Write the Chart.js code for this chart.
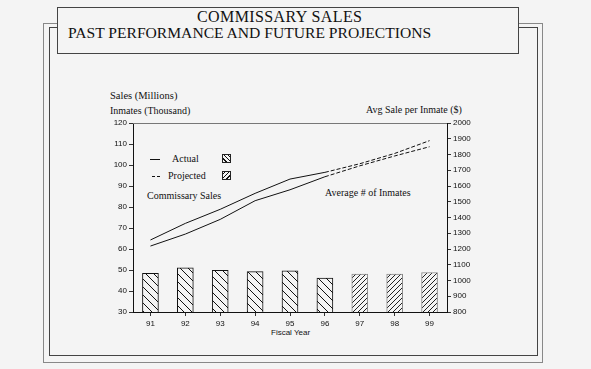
<!DOCTYPE html>
<html>
<head>
<meta charset="utf-8">
<script src="https://cdn.jsdelivr.net/npm/chart.js@4.4.0/dist/chart.umd.min.js"></script>
<style>
  html, body { margin:0; padding:0; background:#f4f4f4; }
  #wrap { position:relative; width:591px; height:369px; overflow:hidden; background:#f4f4f4; }
  .frame { position:absolute; box-sizing:border-box; }
  #outer { left:43px; top:23px; width:500px; height:340px; border:1px solid #888; }
  #inner { left:49px; top:27px; width:489px; height:329px; border:1px solid #444; }
  #titlebox { left:57px; top:7px; width:462px; height:47px; border:1px solid #444; background:#f4f4f4; }
  .t { position:absolute; white-space:nowrap; color:#111; line-height:1; }
  .serif { font-family:"Liberation Serif", "Times New Roman", serif; }
  .sans { font-family:"Liberation Sans", Arial, sans-serif; }
  #title1 { left:197px; top:9px; font-size:16px; letter-spacing:0.4px; }
  #title2 { left:68px; top:25px; font-size:15.6px; }
  .lab { font-size:10px; }
  .sw { position:absolute; width:9px; height:9px; border:1px solid #222; box-sizing:border-box; }
  #chartbox { position:absolute; left:0; top:0; width:591px; height:369px; }
</style>
</head>
<body>
<div id="wrap">
  <div class="frame" id="outer"></div>
  <div class="frame" id="inner"></div>
  <div class="frame" id="titlebox"></div>
  <div class="t serif" id="title1">COMMISSARY SALES</div>
  <div class="t serif" id="title2">PAST PERFORMANCE AND FUTURE PROJECTIONS</div>

  <div class="t serif lab" style="left:110px; top:91px; font-size:10.5px;">Sales (Millions)</div>
  <div class="t serif lab" style="left:110px; top:106px;">Inmates (Thousand)</div>
  <div class="t serif lab" style="left:366px; top:105px;">Avg Sale per Inmate ($)</div>

  <div style="position:absolute; left:150px; top:159px; width:10px; border-top:1px solid #111;"></div>
  <div class="t serif lab" style="left:172px; top:154px;">Actual</div>
  <div class="sw" style="left:222px; top:154px; background:repeating-linear-gradient(45deg, #f4f4f4 0px, #f4f4f4 2px, #111 2px, #111 3px);"></div>
  <div style="position:absolute; left:152px; top:176px; width:3px; border-top:1px solid #111;"></div>
  <div style="position:absolute; left:157px; top:176px; width:3px; border-top:1px solid #111;"></div>
  <div class="t serif lab" style="left:168px; top:171px;">Projected</div>
  <div class="sw" style="left:222px; top:171px; background:repeating-linear-gradient(-45deg, #f4f4f4 0px, #f4f4f4 2px, #111 2px, #111 3px);"></div>

  <div class="t serif lab" style="left:147px; top:191px;">Commissary Sales</div>
  <div class="t serif lab" style="left:325px; top:188px;">Average # of Inmates</div>
  <div class="t sans" style="left:271px; top:329px; font-size:8px;">Fiscal Year</div>

  <div id="chartbox"><canvas id="c" width="591" height="369"></canvas></div>
</div>
<script>
const years = ['91','92','93','94','95','96','97','98','99'];
const commissarySales = [64.3, 72.2, 78.9, 86.5, 93.3, 96.5, 100.6, 105.5, 111.6];
const averageInmates = [61.4, 67.1, 74.1, 83.0, 88.2, 94.4, 99.6, 104.3, 108.7];
const avgSalePerInmate = [1045, 1081, 1064, 1056, 1062, 1015, 1041, 1040, 1051];
const lastActualIndex = 5;

function hatch(size, dir, color) {
  const cv = document.createElement('canvas');
  cv.width = size; cv.height = size;
  const g = cv.getContext('2d');
  g.fillStyle = '#f4f4f4';
  g.fillRect(0, 0, size, size);
  g.strokeStyle = color;
  g.lineWidth = 1;
  g.beginPath();
  if (dir === 'back') {
    g.moveTo(-1, -1); g.lineTo(size + 1, size + 1);
    g.moveTo(-1, size - 1); g.lineTo(1, size + 1);
    g.moveTo(size - 1, -1); g.lineTo(size + 1, 1);
  } else {
    g.moveTo(-1, size + 1); g.lineTo(size + 1, -1);
    g.moveTo(-1, 1); g.lineTo(1, -1);
    g.moveTo(size - 1, size + 1); g.lineTo(size + 1, size - 1);
  }
  g.stroke();
  return g.createPattern(cv, 'repeat');
}

const ctx = document.getElementById('c').getContext('2d');
const actualPat = hatch(8, 'back', '#111');
const projPat = hatch(5, 'fwd', '#222');

const dashSeg = {
  borderDash: c => (c.p0DataIndex >= lastActualIndex ? [4, 2] : undefined)
};

const boxPlugin = {
  id: 'box',
  afterDraw(chart) {
    const a = chart.chartArea, g = chart.ctx;
    g.save();
    g.strokeStyle = '#777';
    g.lineWidth = 1;
    g.beginPath();
    g.moveTo(a.left, a.top + 0.5);
    g.lineTo(a.right, a.top + 0.5);
    g.stroke();
    g.restore();
  }
};

const tickFont = { family: '"Liberation Sans", Arial, sans-serif', size: 8 };
const plain = v => String(v);

new Chart(ctx, {
  type: 'bar',
  data: {
    labels: years,
    datasets: [
      {
        type: 'line',
        label: 'Commissary Sales',
        data: commissarySales,
        yAxisID: 'y',
        borderColor: '#111',
        borderWidth: 1,
        pointRadius: 0,
        tension: 0,
        fill: false,
        segment: dashSeg
      },
      {
        type: 'line',
        label: 'Average # of Inmates',
        data: averageInmates,
        yAxisID: 'y',
        borderColor: '#111',
        borderWidth: 1,
        pointRadius: 0,
        tension: 0,
        fill: false,
        segment: dashSeg
      },
      {
        type: 'bar',
        label: 'Avg Sale per Inmate ($)',
        data: avgSalePerInmate,
        yAxisID: 'y1',
        backgroundColor: avgSalePerInmate.map((v, i) => i > lastActualIndex ? projPat : actualPat),
        borderColor: avgSalePerInmate.map((v, i) => i > lastActualIndex ? '#888' : '#111'),
        borderWidth: 1,
        borderSkipped: false,
        barThickness: 16
      }
    ]
  },
  options: {
    responsive: false,
    animation: false,
    devicePixelRatio: 1,
    layout: { padding: { left: 103, right: 104, top: 123, bottom: 32 } },
    plugins: { legend: { display: false }, tooltip: { enabled: false }, title: { display: false } },
    scales: {
      x: {
        offset: true,
        grid: { display: true, drawOnChartArea: false, offset: false, tickLength: 4, color: '#333' },
        border: { display: true, color: '#111', width: 1 },
        ticks: { font: tickFont, color: '#111', padding: 3, maxRotation: 0 },
        afterFit(s) { s.height = 25; }
      },
      y: {
        position: 'left',
        min: 30, max: 120,
        grid: { display: true, drawOnChartArea: false, tickLength: 4, color: '#333' },
        border: { display: true, color: '#111', width: 1 },
        ticks: { stepSize: 10, font: tickFont, color: '#111', padding: 2, callback: plain },
        afterFit(s) { s.width = 30; }
      },
      y1: {
        position: 'right',
        min: 800, max: 2000,
        grid: { display: true, drawOnChartArea: false, tickLength: 4, color: '#333' },
        border: { display: true, color: '#111', width: 1 },
        ticks: { stepSize: 100, font: tickFont, color: '#111', padding: 2, callback: plain },
        afterFit(s) { s.width = 40; }
      }
    }
  },
  plugins: [boxPlugin]
});
</script>
</body>
</html>
